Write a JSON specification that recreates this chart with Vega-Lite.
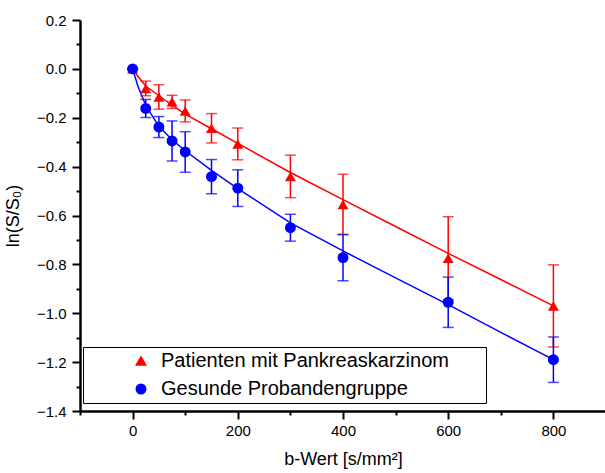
{
  "$schema": "https://vega.github.io/schema/vega-lite/v6.json",
  "autosize": {"type": "none"},
  "padding": {"left": 80, "top": 20, "right": 0, "bottom": 62},
  "width": 526,
  "height": 391,
  "background": "white",
  "config": {
    "view": {"stroke": null},
    "font": "Liberation Sans",
    "axis": {"grid": false, "domainColor": "black", "domainWidth": 2.5, "tickColor": "black", "tickWidth": 2, "labelColor": "black", "labelFont": "Liberation Sans", "labelFontSize": 15, "titleFont": "Liberation Sans", "titleFontSize": 18, "titleFontWeight": "normal", "titleColor": "black"},
    "legend": {"orient": "none", "legendX": 3, "legendY": 327, "strokeColor": "black", "fillColor": "white", "padding": 4, "symbolOffset": 44, "labelOffset": 10, "labelFontSize": 20, "labelFont": "Liberation Sans", "labelColor": "black", "rowPadding": 8, "symbolSize": 90, "symbolOpacity": 1, "labelLimit": 450}
  },
  "resolve": {"axis": {"x": "independent", "y": "independent"}},
  "datasets": {
    "pts": [
      {"group": "Patienten mit Pankreaskarzinom", "b": 0, "v": 0.0, "lo": 0.0, "hi": 0.0},
      {"group": "Patienten mit Pankreaskarzinom", "b": 25, "v": -0.08, "lo": -0.11, "hi": -0.05},
      {"group": "Patienten mit Pankreaskarzinom", "b": 50, "v": -0.115, "lo": -0.165, "hi": -0.065},
      {"group": "Patienten mit Pankreaskarzinom", "b": 75, "v": -0.135, "lo": -0.162, "hi": -0.108},
      {"group": "Patienten mit Pankreaskarzinom", "b": 100, "v": -0.172, "lo": -0.217, "hi": -0.127},
      {"group": "Patienten mit Pankreaskarzinom", "b": 150, "v": -0.243, "lo": -0.303, "hi": -0.183},
      {"group": "Patienten mit Pankreaskarzinom", "b": 200, "v": -0.307, "lo": -0.372, "hi": -0.242},
      {"group": "Patienten mit Pankreaskarzinom", "b": 300, "v": -0.44, "lo": -0.527, "hi": -0.353},
      {"group": "Patienten mit Pankreaskarzinom", "b": 400, "v": -0.555, "lo": -0.679, "hi": -0.431},
      {"group": "Patienten mit Pankreaskarzinom", "b": 600, "v": -0.775, "lo": -0.945, "hi": -0.605},
      {"group": "Patienten mit Pankreaskarzinom", "b": 800, "v": -0.97, "lo": -1.138, "hi": -0.802},
      {"group": "Gesunde Probandengruppe", "b": 0, "v": 0.0, "lo": 0.0, "hi": 0.0},
      {"group": "Gesunde Probandengruppe", "b": 25, "v": -0.162, "lo": -0.199, "hi": -0.125},
      {"group": "Gesunde Probandengruppe", "b": 50, "v": -0.238, "lo": -0.281, "hi": -0.195},
      {"group": "Gesunde Probandengruppe", "b": 75, "v": -0.295, "lo": -0.377, "hi": -0.213},
      {"group": "Gesunde Probandengruppe", "b": 100, "v": -0.34, "lo": -0.423, "hi": -0.257},
      {"group": "Gesunde Probandengruppe", "b": 150, "v": -0.441, "lo": -0.511, "hi": -0.371},
      {"group": "Gesunde Probandengruppe", "b": 200, "v": -0.488, "lo": -0.563, "hi": -0.413},
      {"group": "Gesunde Probandengruppe", "b": 300, "v": -0.65, "lo": -0.705, "hi": -0.595},
      {"group": "Gesunde Probandengruppe", "b": 400, "v": -0.772, "lo": -0.867, "hi": -0.677},
      {"group": "Gesunde Probandengruppe", "b": 600, "v": -0.955, "lo": -1.058, "hi": -0.852},
      {"group": "Gesunde Probandengruppe", "b": 800, "v": -1.19, "lo": -1.283, "hi": -1.097}
    ],
    "fit": [
      {"group": "Patienten mit Pankreaskarzinom", "b": 0, "v": 0.0},
      {"group": "Patienten mit Pankreaskarzinom", "b": 10, "v": -0.03},
      {"group": "Patienten mit Pankreaskarzinom", "b": 25, "v": -0.07},
      {"group": "Patienten mit Pankreaskarzinom", "b": 50, "v": -0.11},
      {"group": "Patienten mit Pankreaskarzinom", "b": 75, "v": -0.148},
      {"group": "Patienten mit Pankreaskarzinom", "b": 100, "v": -0.185},
      {"group": "Patienten mit Pankreaskarzinom", "b": 150, "v": -0.245},
      {"group": "Patienten mit Pankreaskarzinom", "b": 200, "v": -0.305},
      {"group": "Patienten mit Pankreaskarzinom", "b": 300, "v": -0.424},
      {"group": "Patienten mit Pankreaskarzinom", "b": 400, "v": -0.535},
      {"group": "Patienten mit Pankreaskarzinom", "b": 500, "v": -0.645},
      {"group": "Patienten mit Pankreaskarzinom", "b": 600, "v": -0.755},
      {"group": "Patienten mit Pankreaskarzinom", "b": 700, "v": -0.862},
      {"group": "Patienten mit Pankreaskarzinom", "b": 800, "v": -0.97},
      {"group": "Gesunde Probandengruppe", "b": 0, "v": 0.0},
      {"group": "Gesunde Probandengruppe", "b": 10, "v": -0.07},
      {"group": "Gesunde Probandengruppe", "b": 25, "v": -0.15},
      {"group": "Gesunde Probandengruppe", "b": 50, "v": -0.235},
      {"group": "Gesunde Probandengruppe", "b": 75, "v": -0.29},
      {"group": "Gesunde Probandengruppe", "b": 100, "v": -0.335},
      {"group": "Gesunde Probandengruppe", "b": 150, "v": -0.415},
      {"group": "Gesunde Probandengruppe", "b": 200, "v": -0.49},
      {"group": "Gesunde Probandengruppe", "b": 300, "v": -0.63},
      {"group": "Gesunde Probandengruppe", "b": 400, "v": -0.745},
      {"group": "Gesunde Probandengruppe", "b": 500, "v": -0.855},
      {"group": "Gesunde Probandengruppe", "b": 600, "v": -0.965},
      {"group": "Gesunde Probandengruppe", "b": 700, "v": -1.078},
      {"group": "Gesunde Probandengruppe", "b": 800, "v": -1.19}
    ]
  },
  "layer": [
    {
      "data": {"name": "fit"},
      "mark": {"type": "line", "strokeWidth": 1.5, "clip": true},
      "encoding": {
        "x": {"field": "b", "type": "quantitative", "scale": {"domain": [-100, 900], "nice": false, "zero": false},
          "axis": {"title": "b-Wert [s/mm²]", "orient": "bottom", "values": [0, 200, 400, 600, 800], "format": "d", "tickSize": 8, "labelPadding": 4, "titlePadding": 12}},
        "y": {"field": "v", "type": "quantitative", "scale": {"domain": [-1.4, 0.2], "nice": false, "zero": false},
          "axis": {"title": "ln(S/S₀)", "orient": "left", "values": [-1.4, -1.2, -1.0, -0.8, -0.6, -0.4, -0.2, 0.0, 0.2], "format": ".1f", "tickSize": 8, "labelPadding": 6, "titlePadding": 14}},
        "color": {"field": "group", "type": "nominal", "scale": {"domain": ["Patienten mit Pankreaskarzinom", "Gesunde Probandengruppe"], "range": ["#ff0000", "#0000ff"]}},
        "detail": {"field": "group"}
      }
    },
    {
      "data": {"name": "pts"},
      "mark": {"type": "errorbar", "ticks": {"size": 11}, "thickness": 1.5},
      "encoding": {
        "x": {"field": "b", "type": "quantitative", "axis": {"orient": "bottom", "title": null, "values": [-100, 100, 300, 500, 700, 900], "labels": false, "tickSize": 4, "domain": false}},
        "y": {"field": "lo", "type": "quantitative", "axis": {"orient": "left", "title": null, "values": [-1.3, -1.1, -0.9, -0.7, -0.5, -0.3, -0.1, 0.1], "labels": false, "tickSize": 4, "domain": false}},
        "y2": {"field": "hi"},
        "color": {"field": "group", "type": "nominal"}
      }
    },
    {
      "data": {"name": "pts"},
      "mark": {"type": "point", "filled": true, "opacity": 1, "size": 120},
      "encoding": {
        "x": {"field": "b", "type": "quantitative", "axis": null},
        "y": {"field": "v", "type": "quantitative", "axis": null},
        "color": {"field": "group", "type": "nominal", "legend": {"title": ".", "titleColor": "white", "titleFontSize": 6, "titleOrient": "right", "titlePadding": 31}},
        "shape": {"field": "group", "type": "nominal", "scale": {"domain": ["Patienten mit Pankreaskarzinom", "Gesunde Probandengruppe"], "range": ["triangle-up", "circle"]}, "legend": {"title": ".", "titleColor": "white", "titleFontSize": 6, "titleOrient": "right", "titlePadding": 31}}
      }
    }
  ]
}
